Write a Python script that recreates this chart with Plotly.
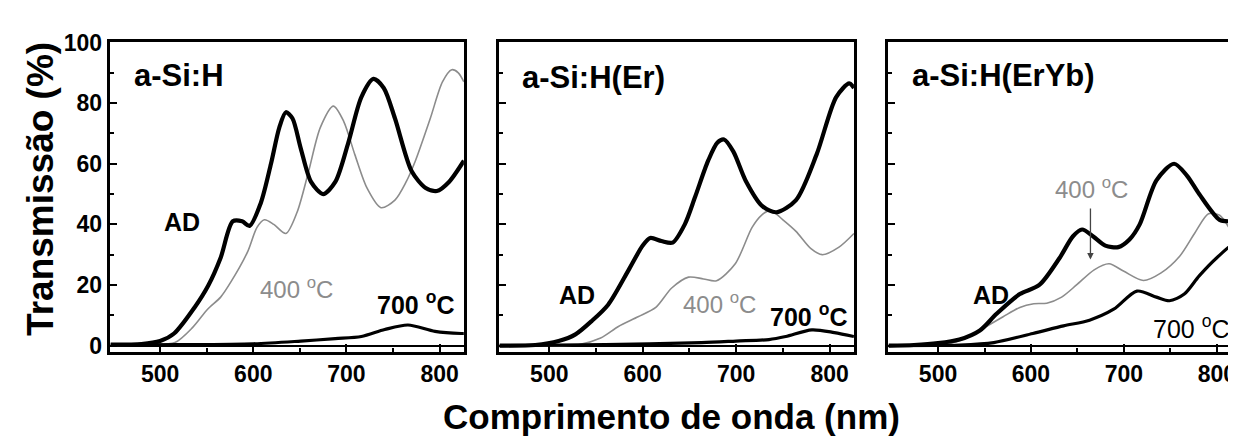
import plotly.graph_objects as go

# ---------------- data ----------------
# Panel 1: a-Si:H
p1_ad_x = [447, 480, 500, 515, 537, 552, 565, 578, 588, 596, 608, 619, 628, 635, 642, 651, 662, 675, 688, 702, 716, 729, 740, 752, 770, 785, 797, 810, 826]
p1_ad_y = [0.3, 0.5, 1.5, 4, 12.6, 20, 29, 41, 41, 39.5, 47, 60, 72, 77, 75, 65, 54, 50, 54, 67, 82, 88, 85, 75, 57.5, 52, 51, 54, 61]
p1_400_x = [447, 490, 516, 535, 551, 565, 576, 594, 604, 612, 622, 635, 647, 659, 672, 686, 697, 709, 722, 737, 752, 764, 774, 790, 803, 813, 820, 826]
p1_400_y = [0, 0.3, 1, 6, 12, 16, 21, 31, 39, 41.5, 40, 37, 44, 57, 72, 79, 74, 63, 52, 45.5, 48, 54, 61, 75, 87, 91, 90, 87]
p1_700_x = [447, 520, 600, 651, 688, 716, 741, 766, 795, 823, 826]
p1_700_y = [0.2, 0.3, 0.6, 1.5, 2.3, 3, 5.3, 6.8, 4.7, 4, 4]

# Panel 2: a-Si:H(Er)
p2_ad_x = [447, 485, 510, 528, 545, 563, 585, 600, 608, 620, 632, 645, 656, 670, 680, 687, 697, 710, 728, 743, 764, 786, 807, 821, 826]
p2_ad_y = [0, 0.2, 1.5, 3.7, 8, 13.5, 25, 33, 35.5, 34.5, 34, 40, 49, 61, 67, 68, 64, 54.5, 46, 44, 48, 63, 82, 86.5, 85]
p2_400_x = [447, 531, 555, 574, 595, 614, 631, 649, 665, 679, 699, 717, 727, 737, 750, 764, 780, 792, 810, 826]
p2_400_y = [0, 0.3, 2.5, 6.3, 9.5, 12.6, 19, 22.6, 22, 21.4, 27, 39, 43, 44.6, 41.5, 37.7, 32, 30, 32.5, 37]
p2_700_x = [447, 560, 663, 700, 735, 753, 781, 805, 826]
p2_700_y = [0, 0.3, 1, 1.5, 2, 3, 5.2, 4.3, 3]

# Panel 3: a-Si:H(ErYb)
p3_ad_x = [447, 474, 500, 523, 545, 563, 588, 609, 631, 645, 655, 667, 680, 694, 706, 717, 735, 754, 768, 781, 803, 815, 826]
p3_ad_y = [0, 0.2, 0.8, 2, 5, 10.5, 17, 20, 29, 36, 38.3, 36, 33, 32.5, 35, 40, 54.5, 60, 56, 50, 41.5, 41, 41]
p3_400_x = [447, 509, 530, 552, 570, 588, 603, 617, 633, 649, 668, 684, 700, 721, 740, 760, 776, 791, 803, 815, 826]
p3_400_y = [0, 0.5, 2.5, 6.3, 9.5, 12.6, 13.8, 14, 16, 20, 25, 27, 24.5, 21.5, 24, 29.5, 37, 43.5, 43, 38, 32.5]
p3_700_x = [447, 523, 560, 602, 635, 663, 689, 714, 735, 749, 765, 781, 800, 819, 826]
p3_700_y = [0, 0.2, 1, 4, 6.5, 8.4, 12, 18, 16, 14.8, 17, 23, 29, 33.6, 32]

panel_titles = ["a-Si:H", "a-Si:H(Er)", "a-Si:H(ErYb)"]
x_ticks = [500, 600, 700, 800]
y_ticks = [0, 20, 40, 60, 80, 100]
y_title = "Transmissão (%)"
x_title = "Comprimento de onda (nm)"

# ---------------- figure ----------------
W, H = 1236, 438
fig = go.Figure()

AD_STYLE = dict(color="black", width=4.2)
T400_STYLE = dict(color="#8c8c8c", width=1.6)
T700_STYLE = dict(color="black", width=3.2)

panels = [
    ("x", "y", p1_ad_x, p1_ad_y, p1_400_x, p1_400_y, p1_700_x, p1_700_y),
    ("x2", "y2", p2_ad_x, p2_ad_y, p2_400_x, p2_400_y, p2_700_x, p2_700_y),
    ("x3", "y3", p3_ad_x, p3_ad_y, p3_400_x, p3_400_y, p3_700_x, p3_700_y),
]
for xa, ya, adx, ady, fx, fy, sx, sy in panels:
    fig.add_trace(go.Scatter(x=fx, y=fy, mode="lines", line=dict(**T400_STYLE, shape="spline", smoothing=0.8),
                             xaxis=xa, yaxis=ya, showlegend=False))
    fig.add_trace(go.Scatter(x=sx, y=sy, mode="lines", line=dict(**T700_STYLE, shape="spline", smoothing=0.8),
                             xaxis=xa, yaxis=ya, showlegend=False))
    fig.add_trace(go.Scatter(x=adx, y=ady, mode="lines", line=dict(**AD_STYLE, shape="spline", smoothing=0.8),
                             xaxis=xa, yaxis=ya, showlegend=False))

px_domains = [(102, 457), (492, 848), (882, 1237)]
y_dom = [1 - 346.5 / H, 1 - 22.5 / H]
tick_font = dict(family="Liberation Sans, Arial", size=23, color="black")

for i, (a, b) in enumerate(px_domains):
    sfx = "" if i == 0 else str(i + 1)
    fig.layout["xaxis" + sfx] = dict(
        domain=[a / W, min(b / W, 1.0)], range=[446, 826], anchor="y" + sfx,
        showline=True, linewidth=3, linecolor="black", mirror=True,
        ticks="inside", ticklen=8, tickwidth=2, tickcolor="black",
        tickvals=x_ticks, ticktext=[f"<b>{v}</b>" for v in x_ticks], tickfont=tick_font,
        minor=dict(tickvals=[550, 650, 750], ticks="inside", ticklen=4, tickwidth=2, tickcolor="black"),
        showgrid=False, zeroline=False, fixedrange=True,
    )
    yax = dict(
        domain=y_dom, range=[-2, 100], anchor="x" + sfx,
        showline=True, linewidth=3, linecolor="black", mirror=True,
        ticks="inside", ticklen=7, tickwidth=2, tickcolor="black",
        tickvals=y_ticks, showticklabels=(i == 0), tickfont=tick_font,
        minor=dict(tickvals=[10, 30, 50, 70, 90], ticks="inside", ticklen=4, tickwidth=2, tickcolor="black"),
        showgrid=False, zeroline=True, zerolinecolor="black", zerolinewidth=1.5, fixedrange=True,
    )
    if i == 0:
        yax["ticktext"] = [f"<b>{v}</b>" for v in y_ticks]
    fig.layout["yaxis" + sfx] = yax

ann_font_b = dict(family="Liberation Sans, Arial", size=31, color="black")
lab_font = dict(family="Liberation Sans, Arial", size=25, color="black")
gray_font = dict(family="Liberation Sans, Arial", size=24, color="#8c8c8c")

def ann(xref, yref, x, y, text, font, xanchor="center"):
    fig.add_annotation(xref=xref, yref=yref, x=x, y=y, text=text, font=font, showarrow=False,
                       xanchor=xanchor, yanchor="middle")

deg = "<sup>o</sup>"
# panel 1
ann("x", "y", 470, 89, f"<b>{panel_titles[0]}</b>", ann_font_b, "left")
ann("x", "y", 524, 40.7, "<b>AD</b>", lab_font)
ann("x", "y", 646, 19, f"400 {deg}C", gray_font)
ann("x", "y", 774, 14, f"<b>700 {deg}C</b>", lab_font)
# panel 2
ann("x2", "y2", 469, 88.5, f"<b>{panel_titles[1]}</b>", ann_font_b, "left")
ann("x2", "y2", 530, 16.7, "<b>AD</b>", lab_font)
ann("x2", "y2", 682, 14, f"400 {deg}C", gray_font)
ann("x2", "y2", 777, 10, f"<b>700 {deg}C</b>", lab_font)
# panel 3
ann("x3", "y3", 470, 89, f"<b>{panel_titles[2]}</b>", ann_font_b, "left")
ann("x3", "y3", 557, 16.7, "<b>AD</b>", lab_font)
ann("x3", "y3", 665, 52, f"400 {deg}C", gray_font)
ann("x3", "y3", 772, 6.3, f"700 {deg}C", dict(family="Liberation Sans, Arial", size=25, color="black"))
fig.add_annotation(xref="x3", yref="y3", x=664, y=28.4, ax=664, ay=45.7, axref="x3", ayref="y3",
                   text="", showarrow=True, arrowhead=2, arrowsize=1, arrowwidth=1.3, arrowcolor="#444")

# axis titles
fig.add_annotation(xref="paper", yref="paper", x=33 / W, y=1 - 176 / H, text=f"<b>{y_title}</b>",
                   textangle=-90, showarrow=False, xanchor="center", yanchor="middle",
                   font=dict(family="Liberation Sans, Arial", size=37, color="black"))
fig.add_annotation(xref="paper", yref="paper", x=665 / W, y=1 - 414 / H, text=f"<b>{x_title}</b>",
                   showarrow=False, xanchor="center", yanchor="middle",
                   font=dict(family="Liberation Sans, Arial", size=35, color="black"))

fig.update_layout(width=W, height=H, margin=dict(l=0, r=0, t=0, b=0),
                  paper_bgcolor="white", plot_bgcolor="white", showlegend=False)

fig.write_html("out.html", config={"displayModeBar": False})
